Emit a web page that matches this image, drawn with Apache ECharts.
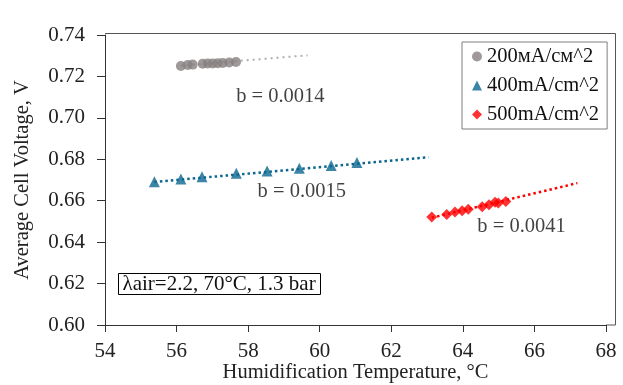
<!DOCTYPE html>
<html>
<head>
<meta charset="utf-8">
<script src="https://cdn.jsdelivr.net/npm/echarts@6/dist/echarts.min.js"></script>
<style>html,body{margin:0;padding:0;background:#fff;}#c{width:623px;height:385px;}</style>
</head>
<body>
<div id="c"></div>
<script>
// ---- data ----
var xTicks = [54, 56, 58, 60, 62, 64, 66, 68];
var yTicks = [0.60, 0.62, 0.64, 0.66, 0.68, 0.70, 0.72, 0.74];

var names = ['200мA/см^2', '400mA/cm^2', '500mA/cm^2'];

var t200 = [56.12, 56.31, 56.45, 56.73, 56.87, 57.01, 57.15, 57.29, 57.47, 57.66];
var v200 = [0.7250, 0.7255, 0.7257, 0.7261, 0.7262, 0.7263, 0.7264, 0.7265, 0.7267, 0.7270];

var t400 = [55.38, 56.12, 56.71, 57.67, 58.53, 59.43, 60.32, 61.04];
var v400 = [0.6692, 0.6705, 0.6716, 0.6733, 0.6744, 0.6757, 0.6770, 0.6785];

var t500 = [63.13, 63.55, 63.78, 63.98, 64.15, 64.54, 64.73, 64.90, 64.99, 65.20];
var v500 = [0.6521, 0.6534, 0.6546, 0.6552, 0.6559, 0.6571, 0.6580, 0.6592, 0.6589, 0.6596];

// trendline end points (start, end)
var trend200T = [56.12, 59.66];
var trend200V = [0.7252, 0.7302];
var trend400T = [55.38, 63.04];
var trend400V = [0.6690, 0.6810];
var trend500T = [63.13, 67.20];
var trend500V = [0.6518, 0.6685];

var slopeLabels = ['b = 0.0014', 'b = 0.0015', 'b = 0.0041'];
var slopeAt = [[58.9, 0.7101], [59.5, 0.6645], [65.64, 0.6473]];
var conditionText = 'λair=2.2, 70°C, 1.3 bar';

function zip(a, b) { return a.map(function (v, i) { return [v, b[i]]; }); }

var FONT = 'Liberation Serif';
var colors = ['#878080', '#0b6690', '#ff0000'];
var trendColors = ['#b0acac', '#0b6690', '#ff0000'];

var chart = echarts.init(document.getElementById('c'));
var option = {
  animation: false,
  backgroundColor: '#ffffff',
  textStyle: { fontFamily: FONT },
  grid: { left: 105, right: 17, top: 35, bottom: 60, containLabel: false, outerBoundsMode: 'none' },
  xAxis: {
    type: 'value', min: xTicks[0], max: xTicks[xTicks.length - 1], interval: 2,
    name: 'Humidification Temperature, °C', nameLocation: 'middle', nameGap: 37, nameMoveOverlap: false,
    nameTextStyle: { fontFamily: FONT, fontSize: 20.5, color: '#222' },
    axisLine: { lineStyle: { color: '#333', width: 1 } },
    axisTick: { show: true, length: 7, lineStyle: { color: '#333' } },
    axisLabel: { fontFamily: FONT, fontSize: 21, color: '#222', margin: 16 },
    splitLine: { show: false }
  },
  yAxis: {
    type: 'value', min: yTicks[0], max: yTicks[yTicks.length - 1], interval: 0.02,
    name: 'Average Cell Voltage, V', nameLocation: 'middle', nameGap: 72, nameRotate: 90, nameMoveOverlap: false,
    nameTextStyle: { fontFamily: FONT, fontSize: 20.5, color: '#222' },
    axisLine: { show: true, lineStyle: { color: '#333', width: 1 } },
    axisTick: { show: true, length: 8, lineStyle: { color: '#333' } },
    axisLabel: { fontFamily: FONT, fontSize: 21, color: '#222', margin: 20,
      formatter: function (v) { return v.toFixed(2); } },
    splitLine: { show: false }
  },
  legend: {
    orient: 'vertical', left: 462, top: 42,
    data: names,
    backgroundColor: '#fff',
    borderColor: '#7f7f7f', borderWidth: 1,
    padding: [4, 8, 4, 10],
    itemGap: 8, itemWidth: 10, itemHeight: 10,
    textStyle: { fontFamily: FONT, fontSize: 20.5, color: '#111' }
  },
  graphic: [
    { type: 'polyline', shape: { points: [[105, 33.5], [615.5, 33.5], [615.5, 325], [606, 325]] },
      style: { stroke: '#555', lineWidth: 1, fill: null }, silent: true },
    { type: 'group', left: 118, top: 273, children: [
      { type: 'rect', shape: { x: 0, y: 0, width: 202, height: 21 }, style: { fill: '#fff', stroke: '#000', lineWidth: 1 } },
      { type: 'text', x: 4, y: 11, style: { text: conditionText, font: '21px "Liberation Serif"', fill: '#111', textVerticalAlign: 'middle' } }
    ] }
  ],
  series: [
    { name: 'trend0', type: 'line', data: zip(trend200T, trend200V), symbol: 'none', silent: true,
      lineStyle: { color: trendColors[0], width: 2, type: [2, 4] }, z: 1 },
    { name: 'trend1', type: 'line', data: zip(trend400T, trend400V), symbol: 'none', silent: true,
      lineStyle: { color: trendColors[1], width: 2.5, type: [2.5, 3] }, z: 1 },
    { name: 'trend2', type: 'line', data: zip(trend500T, trend500V), symbol: 'none', silent: true,
      lineStyle: { color: trendColors[2], width: 2.5, type: [2.5, 3] }, z: 1 },
    { name: names[0], type: 'scatter', data: zip(t200, v200), symbol: 'circle', symbolSize: 10,
      itemStyle: { color: colors[0] }, z: 3 },
    { name: names[1], type: 'scatter', data: zip(t400, v400), symbol: 'triangle', symbolSize: 11,
      itemStyle: { color: colors[1] }, z: 3 },
    { name: names[2], type: 'scatter', data: zip(t500, v500), symbol: 'diamond', symbolSize: 11,
      itemStyle: { color: colors[2] }, z: 3 },
    { name: 'labels', type: 'scatter', symbolSize: 0, silent: true,
      data: slopeAt.map(function (p, i) { return { value: p, label: { formatter: slopeLabels[i] } }; }),
      label: { show: true, position: 'inside', fontFamily: FONT, fontSize: 20.5, color: '#111' } }
  ]
};
chart.setOption(option);
</script>
</body>
</html>
